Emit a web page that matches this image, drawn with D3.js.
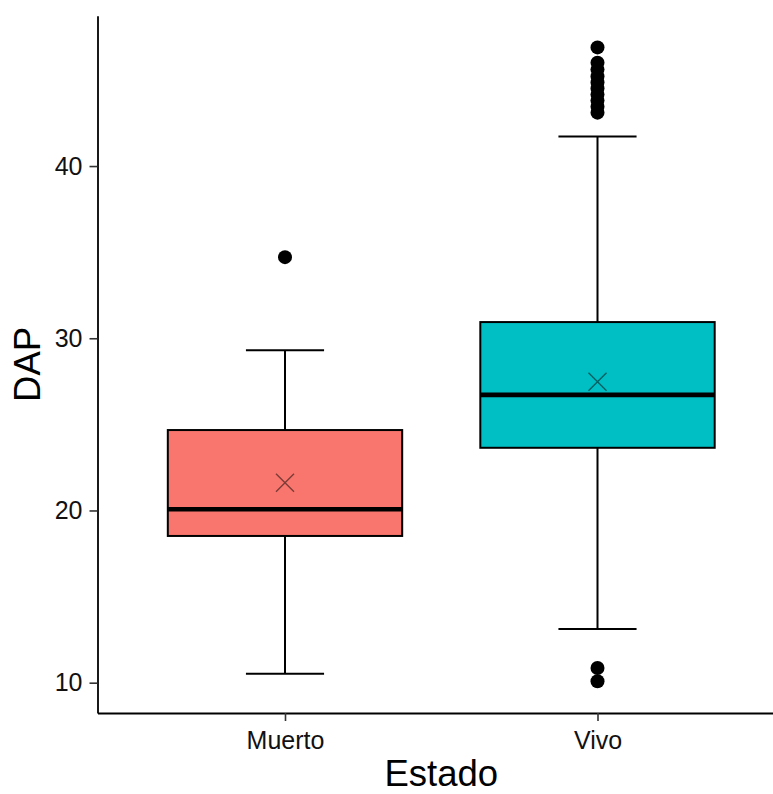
<!DOCTYPE html>
<html>
<head>
<meta charset="utf-8">
<script src="https://cdn.jsdelivr.net/npm/d3@7"></script>
<style>
  body { margin: 0; background: #fff; }
  svg { display: block; font-family: "Liberation Sans", Arial, sans-serif; }
</style>
</head>
<body>
<div class="chart"></div>
<script>
"use strict";

// box stats
const categories = ["Muerto", "Vivo"];
const fills = ["#F8766D", "#00BFC4"];
const lowerWhisker = [10.52, 13.11];
const q1 = [18.52, 23.64];
const median = [20.07, 26.71];
const q3 = [24.67, 30.94];
const upperWhisker = [29.3, 41.71];
const means = [21.61, 27.47];
const outliersMuerto = [34.71];
const outliersVivo = [10.08, 10.85, 43.1, 43.45, 43.8, 44.15, 44.5, 44.85, 45.2, 45.6, 46.0, 46.89];
const yTicks = [10, 20, 30, 40];

const width = 773;
const height = 794;
const plotLeft = 97.5;
const plotRight = 785; // panel runs a bit past the window edge
const plotTop = 15.7;
const plotBottom = 713;

const boxes = categories.map((c, i) => ({
  cat: c,
  fill: fills[i],
  lo: lowerWhisker[i],
  q1: q1[i],
  med: median[i],
  q3: q3[i],
  hi: upperWhisker[i],
  mean: means[i],
}));
const outliers = outliersMuerto
  .map((v) => ({ cat: "Muerto", v }))
  .concat(outliersVivo.map((v) => ({ cat: "Vivo", v })));

const svg = d3
  .select(".chart")
  .append("svg")
  .attr("width", width)
  .attr("height", height);

// ggplot style 5% expansion
const all = lowerWhisker.concat(upperWhisker, outliersMuerto, outliersVivo);
const yMin = d3.min(all);
const yMax = d3.max(all);
const pad = (yMax - yMin) * 0.05;

const y = d3
  .scaleLinear()
  .domain([yMin - pad, yMax + pad])
  .range([plotBottom, plotTop]);

const x = d3.scalePoint().domain(categories).range([plotLeft, plotRight]).padding(0.6);
const step = x.step();
const boxW = step * 0.75;
const capW = step * 0.25;

// whiskers
const g = svg.selectAll(".box").data(boxes).enter().append("g").attr("class", "box");

g.append("line")
  .attr("x1", (d) => x(d.cat))
  .attr("x2", (d) => x(d.cat))
  .attr("y1", (d) => y(d.lo))
  .attr("y2", (d) => y(d.hi))
  .style("stroke", "#000")
  .style("stroke-width", 2);

g.selectAll(".cap")
  .data((d) => [d.lo, d.hi].map((v) => ({ cat: d.cat, v })))
  .enter()
  .append("line")
  .attr("x1", (d) => x(d.cat) - capW / 2)
  .attr("x2", (d) => x(d.cat) + capW / 2)
  .attr("y1", (d) => y(d.v))
  .attr("y2", (d) => y(d.v))
  .style("stroke", "#000")
  .style("stroke-width", 2);

g.append("rect")
  .attr("x", (d) => x(d.cat) - boxW / 2)
  .attr("width", boxW)
  .attr("y", (d) => y(d.q3))
  .attr("height", (d) => y(d.q1) - y(d.q3))
  .style("fill", (d) => d.fill)
  .style("stroke", "#000")
  .style("stroke-width", 2);

g.append("line")
  .attr("x1", (d) => x(d.cat) - boxW / 2)
  .attr("x2", (d) => x(d.cat) + boxW / 2)
  .attr("y1", (d) => y(d.med))
  .attr("y2", (d) => y(d.med))
  .style("stroke", "#000")
  .style("stroke-width", 4.6);

// mean as an x mark
const m = 9;
g.append("path")
  .attr("d", (d) => {
    const cx = x(d.cat);
    const cy = y(d.mean);
    return `M${cx - m},${cy - m}L${cx + m},${cy + m}M${cx - m},${cy + m}L${cx + m},${cy - m}`;
  })
  .style("stroke", "#000")
  .style("stroke-opacity", 0.5)
  .style("stroke-width", 1.4)
  .style("fill", "none");

svg
  .selectAll(".outlier")
  .data(outliers)
  .enter()
  .append("circle")
  .attr("class", "outlier")
  .attr("cx", (d) => x(d.cat))
  .attr("cy", (d) => y(d.v))
  .attr("r", 7)
  .style("fill", "#000");

// axes
const yAxis = svg
  .append("g")
  .attr("transform", `translate(${plotLeft},0)`)
  .call(d3.axisLeft(y).tickValues(yTicks).tickSize(8).tickSizeOuter(0).tickPadding(7));

const xAxis = svg
  .append("g")
  .attr("transform", `translate(0,${plotBottom})`)
  .call(d3.axisBottom(x).tickSize(8).tickSizeOuter(0).tickPadding(10));

[yAxis, xAxis].forEach((a) => {
  a.select(".domain").style("stroke", "#000").style("stroke-width", 1.8);
  a.selectAll(".tick line").style("stroke", "#333").style("stroke-width", 1.6);
  a.selectAll(".tick text")
    .style("font-size", "25px")
    .style("fill", "#111")
    .style("font-family", "'Liberation Sans', Arial, sans-serif");
});

svg
  .append("text")
  .attr("x", (plotLeft + plotRight) / 2)
  .attr("y", 785.5)
  .attr("text-anchor", "middle")
  .style("font-size", "36.5px")
  .style("fill", "#000")
  .text("Estado");

svg
  .append("text")
  .attr("transform", `translate(40,${(plotTop + plotBottom) / 2}) rotate(-90)`)
  .attr("text-anchor", "middle")
  .style("font-size", "36.5px")
  .style("fill", "#000")
  .text("DAP");
</script>
</body>
</html>
